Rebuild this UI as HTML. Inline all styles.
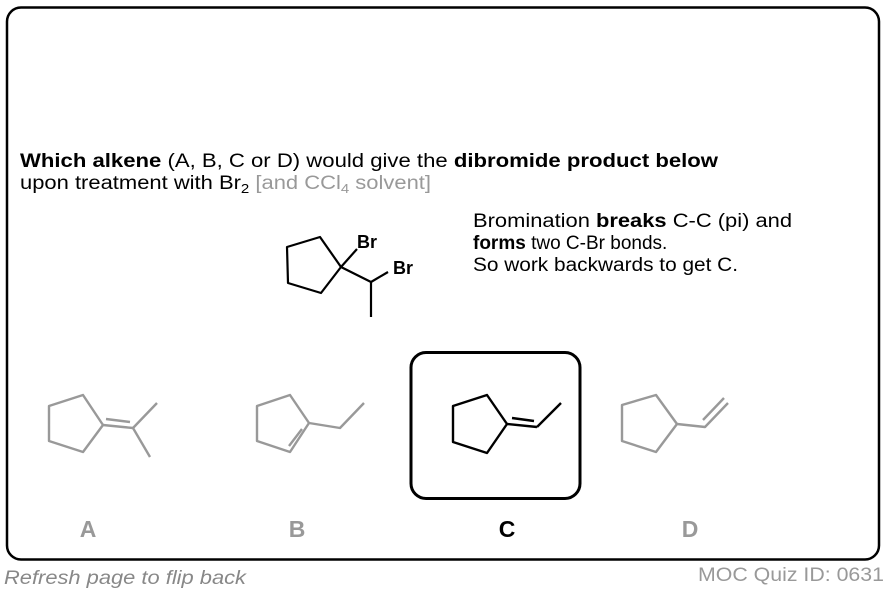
<!DOCTYPE html>
<html><head><meta charset="utf-8"><style>
html,body{margin:0;padding:0;background:#fff;}
svg{display:block;font-family:"Liberation Sans",Arial,sans-serif;}
</style></head><body>
<svg width="888" height="594" viewBox="0 0 888 594" xmlns="http://www.w3.org/2000/svg">
<rect x="7" y="7.5" width="872" height="552" rx="14" fill="#fff" stroke="#000" stroke-width="2.5"/>
<text x="20" y="167" font-size="19" textLength="698" lengthAdjust="spacingAndGlyphs"><tspan font-weight="bold">Which alkene</tspan> (A, B, C or D) would  give the <tspan font-weight="bold">dibromide product below</tspan></text>
<text x="20" y="189" font-size="19" textLength="411" lengthAdjust="spacingAndGlyphs">upon treatment with Br<tspan font-size="13" dy="4">2</tspan><tspan dy="-4" fill="#999"> [and CCl</tspan><tspan fill="#999" font-size="13" dy="4">4</tspan><tspan fill="#999" dy="-4"> solvent]</tspan></text>
<g font-size="19">
<text x="473" y="227" textLength="319" lengthAdjust="spacingAndGlyphs">Bromination <tspan font-weight="bold">breaks</tspan> C-C (pi) and</text>
<text x="473" y="249"><tspan font-weight="bold">forms</tspan> two C-Br bonds.</text>
<text x="473" y="271" textLength="265" lengthAdjust="spacingAndGlyphs">So work backwards to get C.</text>
</g>
<!-- product -->
<g fill="none" stroke="#000" stroke-width="2.2" stroke-linejoin="round">
<polygon points="287,247 320,237 341,267 321,293 288,283"/>
<line x1="341" y1="267" x2="357" y2="249"/>
<polyline points="341,267 371,282 388,272"/>
<line x1="371" y1="282" x2="371" y2="317"/>
</g>
<text x="357" y="248" font-size="18" font-weight="bold">Br</text>
<text x="393" y="274" font-size="18" font-weight="bold">Br</text>
<!-- A -->
<g fill="none" stroke="#999" stroke-width="2.4" stroke-linejoin="round">
<polygon points="49,406 83,395 103,425 83,452 49,441"/>
<line x1="103" y1="425" x2="133" y2="428"/>
<line x1="106" y1="419" x2="130" y2="422"/>
<line x1="133" y1="428" x2="157" y2="403"/>
<line x1="133" y1="428" x2="150" y2="457"/>
</g>
<!-- B -->
<g fill="none" stroke="#999" stroke-width="2.4" stroke-linejoin="round">
<polygon points="257,406 290,395 309,423 290,452 257,441"/>
<polyline points="309,423 340,428 364,403"/>
<line x1="289" y1="446" x2="302" y2="429"/>
</g>
<!-- C -->
<rect x="411" y="352.5" width="169" height="146" rx="15" fill="none" stroke="#000" stroke-width="3"/>
<g fill="none" stroke="#000" stroke-width="2.4" stroke-linejoin="round">
<polygon points="453,406 487,395 507,424 487,453 453,442"/>
<line x1="507" y1="424" x2="537" y2="427"/>
<line x1="512" y1="418" x2="534" y2="421"/>
<line x1="537" y1="427" x2="561" y2="403"/>
</g>
<!-- D -->
<g fill="none" stroke="#999" stroke-width="2.4" stroke-linejoin="round">
<polygon points="622,405 656,395 677,424 656,452 622,441"/>
<polyline points="677,424 705,427 728,403"/>
<line x1="703" y1="420" x2="724" y2="398"/>
</g>
<g font-size="23" font-weight="bold" text-anchor="middle">
<text x="88" y="537" fill="#999">A</text>
<text x="297" y="537" fill="#999">B</text>
<text x="507" y="537" fill="#000">C</text>
<text x="690" y="537" fill="#999">D</text>
</g>
<text x="4" y="584" font-size="19" font-style="italic" fill="#888" textLength="242" lengthAdjust="spacingAndGlyphs">Refresh page to flip back</text>
<text x="884" y="581" font-size="19" fill="#999" text-anchor="end" textLength="186" lengthAdjust="spacingAndGlyphs">MOC Quiz ID: 0631</text>
</svg>
</body></html>
